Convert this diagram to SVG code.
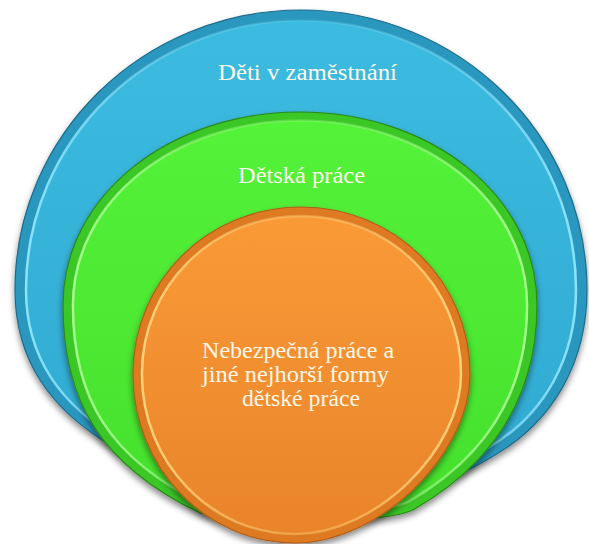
<svg xmlns="http://www.w3.org/2000/svg" width="589" height="544" viewBox="0 0 589 544">
  <defs>
    <filter id="shadow" x="-10%" y="-10%" width="120%" height="125%">
      <feDropShadow dx="0" dy="4" stdDeviation="3" flood-color="#000" flood-opacity="0.45"/>
    </filter>
    <filter id="soft" x="-5%" y="-5%" width="110%" height="110%">
      <feGaussianBlur stdDeviation="0.8"/>
    </filter>
    <linearGradient id="blueFill" x1="0" y1="0" x2="0" y2="1">
      <stop offset="0" stop-color="#3CBBE0"/>
      <stop offset="1" stop-color="#30A9D1"/>
    </linearGradient>
    <linearGradient id="greenFill" x1="0" y1="0" x2="0" y2="1">
      <stop offset="0" stop-color="#55F23A"/>
      <stop offset="1" stop-color="#45E02C"/>
    </linearGradient>
    <linearGradient id="orangeFill" x1="0" y1="0" x2="0" y2="1">
      <stop offset="0" stop-color="#F99A37"/>
      <stop offset="1" stop-color="#E9842A"/>
    </linearGradient>
    <linearGradient id="blueHi" x1="0" y1="0" x2="1" y2="0">
      <stop offset="0" stop-color="#8AE3FA" stop-opacity="1"/>
      <stop offset="0.3" stop-color="#8AE3FA" stop-opacity="0.35"/>
      <stop offset="0.5" stop-color="#8AE3FA" stop-opacity="0.15"/>
      <stop offset="0.7" stop-color="#8AE3FA" stop-opacity="0.35"/>
      <stop offset="1" stop-color="#8AE3FA" stop-opacity="1"/>
    </linearGradient>
    <linearGradient id="greenHi" x1="0" y1="0" x2="1" y2="0">
      <stop offset="0" stop-color="#A6FA8E" stop-opacity="1"/>
      <stop offset="0.3" stop-color="#A6FA8E" stop-opacity="0.45"/>
      <stop offset="0.5" stop-color="#A6FA8E" stop-opacity="0.3"/>
      <stop offset="0.7" stop-color="#A6FA8E" stop-opacity="0.45"/>
      <stop offset="1" stop-color="#A6FA8E" stop-opacity="1"/>
    </linearGradient>
    <linearGradient id="orangeHi" x1="0" y1="0" x2="1" y2="0">
      <stop offset="0" stop-color="#FFD27A" stop-opacity="1"/>
      <stop offset="0.3" stop-color="#FFD27A" stop-opacity="0.55"/>
      <stop offset="0.5" stop-color="#FFD27A" stop-opacity="0.4"/>
      <stop offset="0.7" stop-color="#FFD27A" stop-opacity="0.55"/>
      <stop offset="1" stop-color="#FFD27A" stop-opacity="1"/>
    </linearGradient>
    <path id="blueP" d="M301,10 C458.9,10 587,135.4 587,290 C587,360 555,420 495,455 C440,490 370,502 301,502 C240,502 170,485 115,448 C50,410 15,360 15,290 C15,135.4 143.1,10 301,10 Z"/>
    <path id="greenP" d="M300,112 C430.8,112 537,196 537,305 C537,390 500,460 413,510 C395,518 360,521 300,521 C265,521 235,522 200,513 C100,465 63,400 63,305 C63,196 169.2,112 300,112 Z"/>
    <path id="orangeP" d="M301,207 C394.3,207 470,281 470,374 C470,455 379,543 295,543 C205.6,543 133,467.3 133,374 C133,281 207.7,207 301,207 Z"/>
  </defs>
  <style>
    .lbl { font-family: "Liberation Serif", "Times New Roman", serif; fill: #FFF7E8; text-anchor: middle; }
    .hi { fill: none; stroke-width: 2.6; filter: url(#soft); }
  </style>

  <g id="node-outer">
    <use href="#blueP" fill="#2B97BE" stroke="#1F6D8A" stroke-width="1.2" filter="url(#shadow)"/>
    <use href="#blueP" transform="translate(301,280) scale(0.9615) translate(-301,-280)" fill="url(#blueFill)"/>
    <use href="#blueP" class="hi" transform="translate(301,280) scale(0.9615) translate(-301,-280)" stroke="url(#blueHi)"/>
    <text class="lbl" x="307.5" y="80" font-size="24" textLength="179" lengthAdjust="spacingAndGlyphs">Děti v zaměstnání</text>
  </g>

  <g id="node-middle">
    <use href="#greenP" fill="#3BC725" stroke="#2A8A1A" stroke-width="1.2" filter="url(#shadow)"/>
    <use href="#greenP" transform="translate(300,315) scale(0.958) translate(-300,-315)" fill="url(#greenFill)"/>
    <use href="#greenP" class="hi" transform="translate(300,315) scale(0.958) translate(-300,-315)" stroke="url(#greenHi)"/>
    <text class="lbl" x="301.5" y="183" font-size="24" textLength="127" lengthAdjust="spacingAndGlyphs">Dětská práce</text>
  </g>

  <g id="node-inner">
    <use href="#orangeP" fill="#DD7A22" stroke="#B25E18" stroke-width="1.2" filter="url(#shadow)"/>
    <use href="#orangeP" transform="translate(301,375) scale(0.947) translate(-301,-375)" fill="url(#orangeFill)"/>
    <use href="#orangeP" class="hi" transform="translate(301,375) scale(0.947) translate(-301,-375)" stroke="url(#orangeHi)"/>
    <text class="lbl" font-size="23.5">
      <tspan x="301" y="358" textLength="192" lengthAdjust="spacingAndGlyphs">Nebezpečná práce a</tspan>
      <tspan x="298.5" y="382" textLength="187" lengthAdjust="spacingAndGlyphs">jiné nejhorší formy</tspan>
      <tspan x="301" y="406" textLength="118" lengthAdjust="spacingAndGlyphs">dětské práce</tspan>
    </text>
  </g>
</svg>
